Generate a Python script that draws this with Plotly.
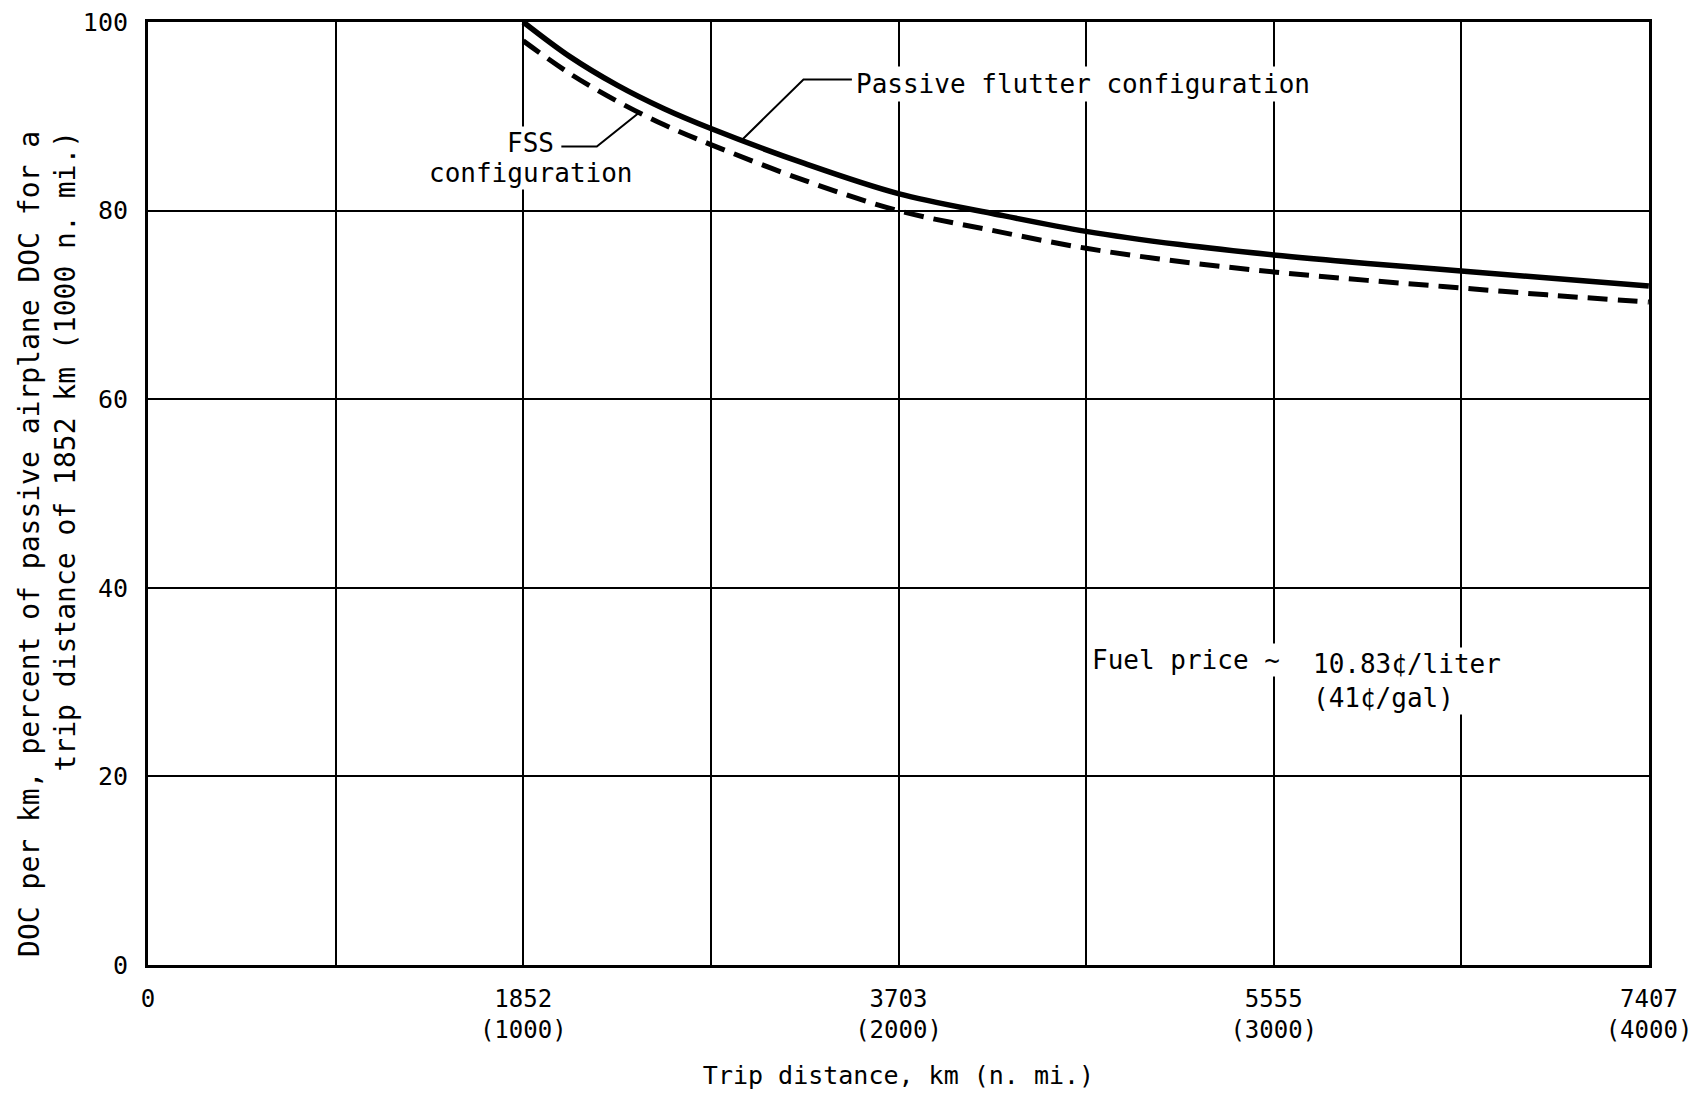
import plotly.graph_objects as go

# ---- data ----
distance_km = [1852, 2084, 2315, 2547, 2778, 3240, 3703, 4167, 4630, 5092, 5555, 6018, 6481, 6944, 7407]
passive_flutter = [100.0, 96.3, 93.3, 90.8, 88.7, 85.0, 81.8, 79.7, 77.8, 76.4, 75.3, 74.4, 73.6, 72.8, 72.0]
fss_config = [98.0, 94.5, 91.6, 89.1, 87.0, 83.2, 80.0, 77.9, 76.0, 74.6, 73.5, 72.6, 71.8, 71.0, 70.3]

grid_km = [0, 926, 1852, 2778, 3704, 4630, 5556, 6482, 7408]
grid_text = ["0", "", "1852<br>(1000)", "", "3703<br>(2000)", "", "5555<br>(3000)", "", "7407<br>(4000)"]
y_ticks = [0, 20, 40, 60, 80, 100]

FONT = "DejaVu Sans Mono"

fig = go.Figure()
fig.add_trace(go.Scatter(x=distance_km, y=fss_config, mode="lines",
                         line=dict(color="black", width=5, dash="20px,10px", shape="spline", smoothing=1.0),
                         showlegend=False))
fig.add_trace(go.Scatter(x=distance_km, y=passive_flutter, mode="lines",
                         line=dict(color="black", width=5.5, shape="spline", smoothing=1.0),
                         showlegend=False))

ann_font = dict(family=FONT, size=26, color="black")
fig.add_annotation(x=3480, y=93.4, text="Passive flutter configuration", showarrow=False,
                   xanchor="left", yanchor="middle", font=ann_font, bgcolor="white", borderpad=2)
fig.add_annotation(x=1888, y=87.2, text="FSS", showarrow=False,
                   xanchor="center", yanchor="middle", font=ann_font, bgcolor="white")
fig.add_annotation(x=1888, y=84.0, text="configuration", showarrow=False,
                   xanchor="center", yanchor="middle", font=ann_font, bgcolor="white")
fig.add_annotation(x=4650, y=32.3, text="Fuel price ~", showarrow=False,
                   xanchor="left", yanchor="middle", font=ann_font, bgcolor="white")
fig.add_annotation(x=5740, y=30.1, text="10.83¢/liter<br>(41¢/gal)", showarrow=False,
                   xanchor="left", yanchor="middle", font=ann_font, bgcolor="white", align="left")

# leader lines (drawn as shapes above annotations' backgrounds)
fig.add_shape(type="path", path="M 3474 93.9 L 3235 93.9 L 2936 87.6",
              line=dict(color="black", width=2), layer="above")
fig.add_shape(type="path", path="M 2040 86.8 L 2215 86.8 L 2431 90.5",
              line=dict(color="black", width=2), layer="above")

# y axis title as rotated annotation (lines aligned at their ends)
fig.add_annotation(xref="paper", yref="paper", x=-0.067, y=0.447,
                   text="DOC per km, percent of passive airplane DOC for a<br>trip distance of 1852 km (1000 n. mi.)",
                   textangle=-90, showarrow=False, xanchor="center", yanchor="middle", align="right",
                   font=dict(family=FONT, size=28, color="black"))

fig.update_layout(
    width=1702, height=1093,
    margin=dict(l=148, r=53, t=22, b=128, autoexpand=False),
    plot_bgcolor="white", paper_bgcolor="white",
    font=dict(family=FONT, color="black"),
)
fig.update_xaxes(range=[0, 7408], tickvals=grid_km, ticktext=grid_text, automargin=False,
                 showgrid=True, gridcolor="black", gridwidth=2, zeroline=False,
                 showline=True, linecolor="black", linewidth=3, mirror=True,
                 ticks="", tickfont=dict(family=FONT, size=24), ticklabelstandoff=10,
                 title=dict(text="Trip distance, km (n. mi.)", font=dict(family=FONT, size=25), standoff=24))
fig.update_yaxes(range=[0, 100], tickvals=y_ticks, automargin=False,
                 showgrid=True, gridcolor="black", gridwidth=2, zeroline=False,
                 showline=True, linecolor="black", linewidth=3, mirror=True,
                 ticks="", tickfont=dict(family=FONT, size=25), ticklabelstandoff=12)

fig.write_html("out.html")
